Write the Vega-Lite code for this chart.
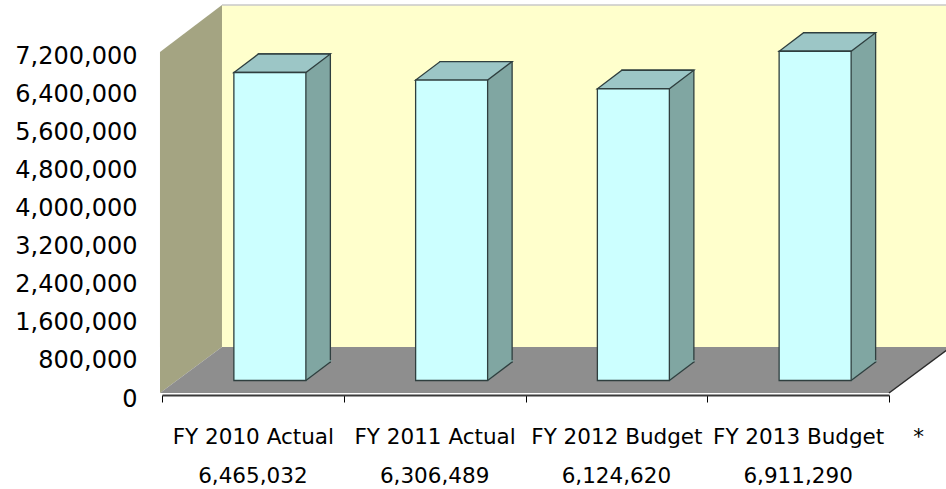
{
  "$schema": "https://vega.github.io/schema/vega-lite/v6.json",
  "width": 727,
  "height": 343,
  "autosize": {"type": "none"},
  "padding": {"left": 162, "top": 56, "right": 57, "bottom": 90},
  "background": "white",
  "config": {
    "view": {"stroke": null},
    "font": "DejaVu Sans",
    "axis": {"labelOverlap": false},
    "axisY": {"labelOverlap": false, "domain": false, "ticks": false, "grid": false, "labelFontSize": 24, "labelColor": "black", "labelPadding": 25, "title": null}
  },
  "data": {
    "values": [
      {"category": "FY 2010 Actual", "value": 6465032},
      {"category": "FY 2011 Actual", "value": 6306489},
      {"category": "FY 2012 Budget", "value": 6124620},
      {"category": "FY 2013 Budget", "value": 6911290}
    ]
  },
  "encoding": {
    "x": {
      "field": "category",
      "type": "nominal",
      "sort": null,
      "scale": {"paddingInner": 0, "paddingOuter": 0},
      "axis": {
        "title": "*",
        "titleX": 756,
        "titleY": 48,
        "titleAlign": "center",
        "titleBaseline": "alphabetic",
        "titleFontSize": 21.5,
        "titleFontWeight": "normal",
        "titleColor": "black",
        "labelAngle": 0,
        "labelFontSize": 21.5,
        "labelColor": "black",
        "labelBaseline": "alphabetic",
        "labelPadding": 41,
        "labelOverlap": false,
        "tickBand": "extent",
        "tickSize": 7,
        "tickColor": "black",
        "domainColor": "#3a3a3a",
        "domainWidth": 2,
        "offset": -4,
        "grid": false
      }
    },
    "y": {
      "field": "value",
      "type": "quantitative",
      "scale": {"domain": [0, 7200000], "nice": false},
      "axis": {
        "title": null,
        "values": [0, 800000, 1600000, 2400000, 3200000, 4000000, 4800000, 5600000, 6400000, 7200000],
        "format": ",d",
        "labelOverlap": false,
        "labelSeparation": 0
      }
    }
  },
  "layer": [
    {
      "transform": [{"filter": "datum.category == 'FY 2010 Actual'"}],
      "mark": {"type": "point", "filled": true, "opacity": 1, "size": 4, "fill": "#FFFFCC", "strokeWidth": 0,
        "shape": "M-30.9,-394L700,-394L700,-52L-30.9,-52Z"},
      "encoding": {"y": {"datum": 0, "type": "quantitative"}}
    },
    {
      "transform": [{"filter": "datum.category == 'FY 2010 Actual'"}],
      "mark": {"type": "point", "filled": false, "opacity": 1, "size": 4, "stroke": "#C8C8C8", "strokeWidth": 1.5,
        "shape": "M-30.9,-394L700,-394"},
      "encoding": {"y": {"datum": 0, "type": "quantitative"}}
    },
    {
      "transform": [{"filter": "datum.category == 'FY 2010 Actual'"}],
      "mark": {"type": "point", "filled": true, "opacity": 1, "size": 4, "fill": "#A4A482", "strokeWidth": 0,
        "shape": "M-92.9,-347L-30.9,-394L-30.9,-52L-92.9,-6Z"},
      "encoding": {"y": {"datum": 0, "type": "quantitative"}}
    },
    {
      "transform": [{"filter": "datum.category == 'FY 2010 Actual'"}],
      "mark": {"type": "point", "filled": true, "opacity": 1, "size": 4, "fill": "#8E8E8E", "strokeWidth": 0,
        "shape": "M-92.9,-6L636.1,-6L698,-52L-30.9,-52Z"},
      "encoding": {"y": {"datum": 0, "type": "quantitative"}}
    },
    {
      "transform": [{"filter": "datum.category == 'FY 2010 Actual'"}],
      "mark": {"type": "point", "filled": false, "opacity": 1, "size": 4, "stroke": "#2a2a2a", "strokeWidth": 1.5,
        "shape": "M636.1,-6L698,-52"},
      "encoding": {"y": {"datum": 0, "type": "quantitative"}}
    },
    {
      "mark": {"type": "bar", "width": 72, "fill": "#80A6A2", "stroke": "#2F3F3F", "strokeWidth": 1.3,
        "xOffset": 41.5, "x2Offset": 41.5, "yOffset": -37, "y2Offset": -37}
    },
    {
      "mark": {"type": "point", "filled": true, "opacity": 1, "size": 5184, "fill": "#80A6A2", "strokeWidth": 0,
        "xOffset": 17, "yOffset": -18.5,
        "shape": "M1,0.03L1,-0.56L1.73,-0.56Z"},
      "encoding": {"y": {"datum": 0, "type": "quantitative"}}
    },
    {
      "mark": {"type": "point", "filled": false, "opacity": 1, "size": 5184, "stroke": "#2F3F3F", "strokeWidth": 1.3,
        "xOffset": 17, "yOffset": -18.5,
        "shape": "M1,0L1.681,-0.514"},
      "encoding": {"y": {"datum": 0, "type": "quantitative"}}
    },
    {
      "mark": {"type": "point", "filled": true, "opacity": 1, "size": 5184, "fill": "#9CC6C6", "stroke": "#2F3F3F", "strokeWidth": 1.3,
        "xOffset": 17, "yOffset": -18.5,
        "shape": "M-1,0L1,0L1.681,-0.514L-0.319,-0.514Z"}
    },
    {
      "mark": {"type": "bar", "width": 72, "fill": "#CCFFFF", "stroke": "#2F3F3F", "strokeWidth": 1.3,
        "xOffset": 17, "x2Offset": 17, "yOffset": -18.5, "y2Offset": -18.5}
    },
    {
      "mark": {"type": "text", "fontSize": 21.5, "color": "black", "baseline": "alphabetic", "yOffset": 84},
      "encoding": {
        "y": {"datum": 0, "type": "quantitative"},
        "text": {"field": "value", "type": "quantitative", "format": ",d"}
      }
    }
  ]
}
